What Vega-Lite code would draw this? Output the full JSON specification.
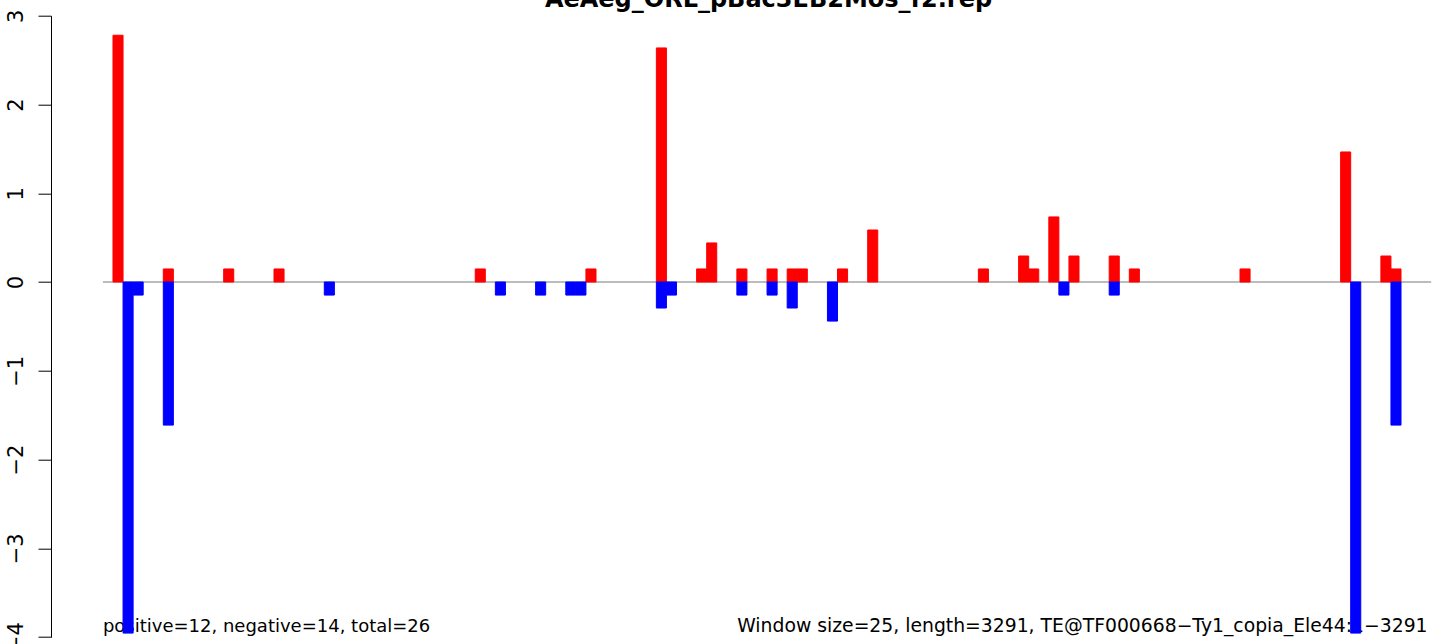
{
  "$schema": "https://vega.github.io/schema/vega-lite/v6.json",
  "width": 1393,
  "height": 621.4,
  "autosize": {"type": "none"},
  "padding": {"left": 51, "top": 15.7, "right": 0, "bottom": 6.9},
  "background": "white",
  "config": {"view": {"stroke": null}, "font": "DejaVu Sans"},
  "title": {
    "text": "AeAeg_ORL_pBac3EB2Mos_f2.rep",
    "font": "DejaVu Sans",
    "fontWeight": "bold",
    "fontSize": 24,
    "anchor": "middle",
    "dx": 21,
    "dy": 22,
    "baseline": "alphabetic",
    "offset": 0,
    "color": "black"
  },
  "encoding": {
    "x": {
      "field": "start",
      "type": "quantitative",
      "scale": {"domain": [-129, 3331.8], "nice": false, "zero": false},
      "axis": null
    },
    "y": {
      "field": "value",
      "type": "quantitative",
      "scale": {"domain": [-4, 3], "nice": false, "zero": false},
      "axis": {
        "title": null,
        "values": [-4, -3, -2, -1, 0, 1, 2, 3],
        "format": "d",
        "grid": false,
        "labelAngle": 270,
        "labelAlign": "center",
        "labelBaseline": "alphabetic",
        "labelFontSize": 21,
        "labelFont": "DejaVu Sans",
        "labelColor": "black",
        "labelPadding": 16,
        "tickSize": 13,
        "tickColor": "black",
        "tickWidth": 1,
        "domainColor": "black",
        "domainWidth": 1,
        "labelFlush": false,
        "labelOverlap": false,
        "labelBound": false
      }
    }
  },
  "layer": [
    {
      "data": {"values": [{"start": 0, "end": 3300, "value": 0}]},
      "mark": {"type": "rule", "color": "#A6A6A6", "strokeWidth": 1.6},
      "encoding": {"x2": {"field": "end"}}
    },
    {
      "data": {"values": [{"start": 0, "value": -3.94, "label": "positive=12, negative=14, total=26"}]},
      "mark": {"type": "text", "align": "left", "baseline": "alphabetic", "fontSize": 18, "font": "DejaVu Sans", "color": "black"},
      "encoding": {"text": {"field": "label"}}
    },
    {
      "data": {"values": [{"start": 3291, "value": -3.94, "label": "Window size=25, length=3291, TE@TF000668−Ty1_copia_Ele44:1−3291"}]},
      "mark": {"type": "text", "align": "right", "baseline": "alphabetic", "fontSize": 18.8, "font": "DejaVu Sans", "color": "black"},
      "encoding": {"text": {"field": "label"}}
    },
    {
      "data": {"values": [
        {"start": 25, "end": 50, "value": 2.78, "strand": "positive"},
        {"start": 150, "end": 175, "value": 0.147, "strand": "positive"},
        {"start": 300, "end": 325, "value": 0.147, "strand": "positive"},
        {"start": 425, "end": 450, "value": 0.147, "strand": "positive"},
        {"start": 925, "end": 950, "value": 0.147, "strand": "positive"},
        {"start": 1200, "end": 1225, "value": 0.147, "strand": "positive"},
        {"start": 1375, "end": 1400, "value": 2.637, "strand": "positive"},
        {"start": 1475, "end": 1500, "value": 0.147, "strand": "positive"},
        {"start": 1500, "end": 1525, "value": 0.44, "strand": "positive"},
        {"start": 1575, "end": 1600, "value": 0.147, "strand": "positive"},
        {"start": 1650, "end": 1675, "value": 0.147, "strand": "positive"},
        {"start": 1700, "end": 1725, "value": 0.147, "strand": "positive"},
        {"start": 1725, "end": 1750, "value": 0.147, "strand": "positive"},
        {"start": 1825, "end": 1850, "value": 0.147, "strand": "positive"},
        {"start": 1900, "end": 1925, "value": 0.586, "strand": "positive"},
        {"start": 2175, "end": 2200, "value": 0.147, "strand": "positive"},
        {"start": 2275, "end": 2300, "value": 0.293, "strand": "positive"},
        {"start": 2300, "end": 2325, "value": 0.147, "strand": "positive"},
        {"start": 2350, "end": 2375, "value": 0.733, "strand": "positive"},
        {"start": 2400, "end": 2425, "value": 0.293, "strand": "positive"},
        {"start": 2500, "end": 2525, "value": 0.293, "strand": "positive"},
        {"start": 2550, "end": 2575, "value": 0.147, "strand": "positive"},
        {"start": 2825, "end": 2850, "value": 0.147, "strand": "positive"},
        {"start": 3075, "end": 3100, "value": 1.465, "strand": "positive"},
        {"start": 3175, "end": 3200, "value": 0.293, "strand": "positive"},
        {"start": 3200, "end": 3225, "value": 0.147, "strand": "positive"},
        {"start": 50, "end": 75, "value": -3.955, "strand": "negative"},
        {"start": 75, "end": 100, "value": -0.147, "strand": "negative"},
        {"start": 150, "end": 175, "value": -1.612, "strand": "negative"},
        {"start": 550, "end": 575, "value": -0.147, "strand": "negative"},
        {"start": 975, "end": 1000, "value": -0.147, "strand": "negative"},
        {"start": 1075, "end": 1100, "value": -0.147, "strand": "negative"},
        {"start": 1150, "end": 1175, "value": -0.147, "strand": "negative"},
        {"start": 1175, "end": 1200, "value": -0.147, "strand": "negative"},
        {"start": 1375, "end": 1400, "value": -0.293, "strand": "negative"},
        {"start": 1400, "end": 1425, "value": -0.147, "strand": "negative"},
        {"start": 1575, "end": 1600, "value": -0.147, "strand": "negative"},
        {"start": 1650, "end": 1675, "value": -0.147, "strand": "negative"},
        {"start": 1700, "end": 1725, "value": -0.293, "strand": "negative"},
        {"start": 1800, "end": 1825, "value": -0.44, "strand": "negative"},
        {"start": 2375, "end": 2400, "value": -0.147, "strand": "negative"},
        {"start": 2500, "end": 2525, "value": -0.147, "strand": "negative"},
        {"start": 3100, "end": 3125, "value": -3.955, "strand": "negative"},
        {"start": 3200, "end": 3225, "value": -1.612, "strand": "negative"}
      ]},
      "mark": {"type": "rect", "strokeWidth": 1},
      "encoding": {
        "x2": {"field": "end"},
        "y2": {"datum": 0},
        "color": {
          "field": "strand",
          "type": "nominal",
          "scale": {"domain": ["positive", "negative"], "range": ["#FF0000", "#0000FF"]},
          "legend": null
        },
        "stroke": {
          "field": "strand",
          "type": "nominal",
          "scale": {"domain": ["positive", "negative"], "range": ["#FF0000", "#0000FF"]},
          "legend": null
        }
      }
    }
  ]
}
